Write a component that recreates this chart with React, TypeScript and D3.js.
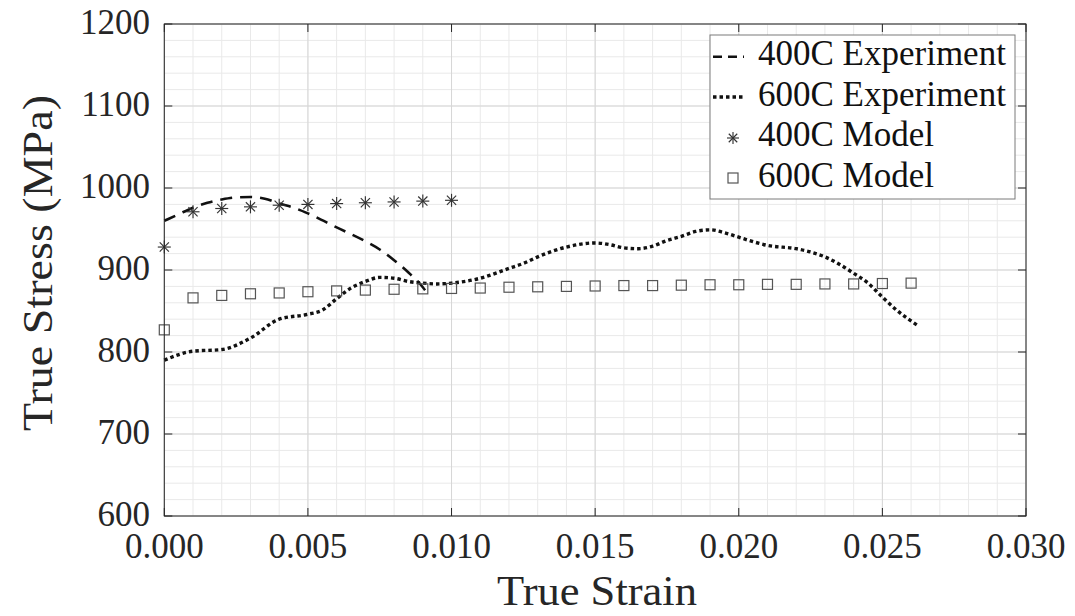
import React from "react";
import * as d3 from "d3";

const W = 1075;
const H = 616;

const xTicks = [0, 0.005, 0.01, 0.015, 0.02, 0.025, 0.03];
const xTickLabels = ["0.000", "0.005", "0.010", "0.015", "0.020", "0.025", "0.030"];
const yTicks = [600, 700, 800, 900, 1000, 1100, 1200];
const yTickLabels = ["600", "700", "800", "900", "1000", "1100", "1200"];

const exp400Strain = [0, 0.0005, 0.001, 0.0015, 0.002, 0.0025, 0.003, 0.0035, 0.004, 0.0045, 0.005, 0.006, 0.007, 0.0075, 0.008, 0.0085, 0.009, 0.00915];
const exp400Stress = [960, 968, 976, 982, 986, 988.5, 989, 987, 981, 976, 969, 952, 935, 925, 912, 897, 879, 872];

const exp600Strain = [0, 0.001, 0.002, 0.003, 0.004, 0.005, 0.0055, 0.006, 0.0065, 0.007, 0.0075, 0.008, 0.0085, 0.009, 0.0095, 0.01, 0.011, 0.012, 0.0125, 0.013, 0.014, 0.015, 0.0155, 0.016, 0.0165, 0.017, 0.0175, 0.018, 0.0185, 0.019, 0.0195, 0.02, 0.0205, 0.021, 0.022, 0.0225, 0.023, 0.0235, 0.024, 0.0245, 0.025, 0.0255, 0.0262];
const exp600Stress = [790, 801, 803, 817, 840, 846, 851, 865, 878, 886, 891, 890, 886, 884, 883, 884, 890, 902, 908, 916, 928, 933, 931, 927, 926, 929, 936, 941, 947, 949, 945.5, 940, 934.5, 930, 926, 922, 916, 907, 896, 884, 867, 851, 833];

const model400Strain = [0, 0.001, 0.002, 0.003, 0.004, 0.005, 0.006, 0.007, 0.008, 0.009, 0.01];
const model400Stress = [928, 971, 975, 977, 979, 980, 981, 982, 983, 984, 985];

const model600Strain = [0, 0.001, 0.002, 0.003, 0.004, 0.005, 0.006, 0.007, 0.008, 0.009, 0.01, 0.011, 0.012, 0.013, 0.014, 0.015, 0.016, 0.017, 0.018, 0.019, 0.02, 0.021, 0.022, 0.023, 0.024, 0.025, 0.026];
const model600Stress = [827, 866, 869, 871, 872, 873.5, 874.5, 875.5, 876.5, 877, 877.5, 878, 879, 879.5, 880, 880.5, 881, 881, 881.5, 882, 882, 882.5, 882.5, 883, 883, 883.5, 884];

const legendLabels = ["400C Experiment", "600C Experiment", "400C Model", "600C Model"];

const FONT = '"Liberation Serif", "DejaVu Serif", serif';

const M = { left: 164.3, right: 1026, top: 24, bottom: 516 };

function Asterisk({ cx, cy, r }: { cx: number; cy: number; r: number }) {
  const d = r * Math.SQRT1_2;
  return (
    <g stroke="#333" strokeWidth={1.15}>
      <line x1={cx - r} y1={cy} x2={cx + r} y2={cy} />
      <line x1={cx} y1={cy - r} x2={cx} y2={cy + r} />
      <line x1={cx - d} y1={cy - d} x2={cx + d} y2={cy + d} />
      <line x1={cx - d} y1={cy + d} x2={cx + d} y2={cy - d} />
    </g>
  );
}

export default function App() {
  const x = d3.scaleLinear().domain([0, 0.03]).range([M.left, M.right]);
  const y = d3.scaleLinear().domain([600, 1200]).range([M.bottom, M.top]);

  const minorX = d3.range(0, 31).map((i) => i * 0.001);
  const minorY = d3.range(0, 31).map((i) => 600 + i * 20);

  const line = d3
    .line<[number, number]>()
    .x((d) => x(d[0]))
    .y((d) => y(d[1]))
    .curve(d3.curveMonotoneX);

  const p400 = line(exp400Strain.map((s, i) => [s, exp400Stress[i]] as [number, number])) || "";
  const p600 = line(exp600Strain.map((s, i) => [s, exp600Stress[i]] as [number, number])) || "";

  const axisColor = "#262626";
  const tickLen = 8;

  const lx = 710, ly = 35, lw = 305, lh = 164;
  const rowBase = [65, 105.5, 146, 186.5];
  const ts = { fontFamily: FONT };

  return (
    <svg width={W} height={H} style={{ position: "absolute", left: 0, top: 0, background: "#fff", fontFamily: FONT }}>
      <rect x={0} y={0} width={W} height={H} fill="#fff" />
      {/* minor grid */}
      <g stroke="#e9e9e9" strokeWidth={1}>
        {minorX.map((v, i) => (
          <line key={"mx" + i} x1={x(v)} x2={x(v)} y1={M.top} y2={M.bottom} />
        ))}
        {minorY.map((v, i) => (
          <line key={"my" + i} y1={y(v)} y2={y(v)} x1={M.left} x2={M.right} />
        ))}
      </g>
      {/* major grid */}
      <g stroke="#d6d6d6" strokeWidth={1}>
        {xTicks.map((v, i) => (
          <line key={"gx" + i} x1={x(v)} x2={x(v)} y1={M.top} y2={M.bottom} />
        ))}
        {yTicks.map((v, i) => (
          <line key={"gy" + i} y1={y(v)} y2={y(v)} x1={M.left} x2={M.right} />
        ))}
      </g>

      {/* data lines */}
      <path d={p400} fill="none" stroke="#111" strokeWidth={2.6} strokeDasharray="12,8" />
      <path d={p600} fill="none" stroke="#111" strokeWidth={3.4} strokeDasharray="3.5,3" />

      {/* markers */}
      {model400Strain.map((s, i) => (
        <Asterisk key={"a" + i} cx={x(s)} cy={y(model400Stress[i])} r={6.5} />
      ))}
      {model600Strain.map((s, i) => (
        <rect key={"s" + i} x={x(s) - 5} y={y(model600Stress[i]) - 5} width={10} height={10} fill="none" stroke="#555" strokeWidth={1.2} />
      ))}

      {/* axes box */}
      <rect x={M.left} y={M.top} width={M.right - M.left} height={M.bottom - M.top} fill="none" stroke={axisColor} strokeWidth={1} />
      {/* ticks */}
      <g stroke={axisColor} strokeWidth={1}>
        {xTicks.map((v, i) => (
          <g key={"tx" + i}>
            <line x1={x(v)} x2={x(v)} y1={M.bottom} y2={M.bottom - tickLen} />
            <line x1={x(v)} x2={x(v)} y1={M.top} y2={M.top + tickLen} />
          </g>
        ))}
        {yTicks.map((v, i) => (
          <g key={"ty" + i}>
            <line y1={y(v)} y2={y(v)} x1={M.left} x2={M.left + tickLen} />
            <line y1={y(v)} y2={y(v)} x1={M.right} x2={M.right - tickLen} />
          </g>
        ))}
      </g>
      {/* tick labels */}
      <g fill="#262626" fontSize={35}>
        {xTicks.map((v, i) => (
          <text key={"lx" + i} style={ts} x={x(v)} y={558} textAnchor="middle">
            {xTickLabels[i]}
          </text>
        ))}
        {yTicks.map((v, i) => (
          <text key={"ly" + i} style={ts} x={150} y={y(v) + 10} textAnchor="end">
            {yTickLabels[i]}
          </text>
        ))}
      </g>
      {/* axis labels */}
      <text style={ts} x={597} y={605} textAnchor="middle" fontSize={42} fill="#262626" textLength={200} lengthAdjust="spacingAndGlyphs">
        True Strain
      </text>
      <text style={ts} transform={`translate(52, 263) rotate(-90)`} textAnchor="middle" fontSize={43} fill="#262626" textLength={336} lengthAdjust="spacingAndGlyphs">
        True Stress (MPa)
      </text>

      {/* legend */}
      <rect x={lx} y={ly} width={lw} height={lh} fill="#fff" stroke="#7a7a7a" strokeWidth={1} />
      <line x1={713} x2={744} y1={56.7} y2={56.7} stroke="#111" strokeWidth={2.6} strokeDasharray="9,6" />
      <line x1={713} x2={744} y1={97} y2={97} stroke="#111" strokeWidth={3.4} strokeDasharray="3.5,3" />
      <Asterisk cx={733} cy={138} r={6} />
      <rect x={728} y={173} width={10} height={10} fill="none" stroke="#555" strokeWidth={1.2} />
      <g fontSize={35} fill="#111">
        {legendLabels.map((t, i) => (
          <text key={"lg" + i} style={ts} x={758} y={rowBase[i]}>
            {t}
          </text>
        ))}
      </g>
    </svg>
  );
}
